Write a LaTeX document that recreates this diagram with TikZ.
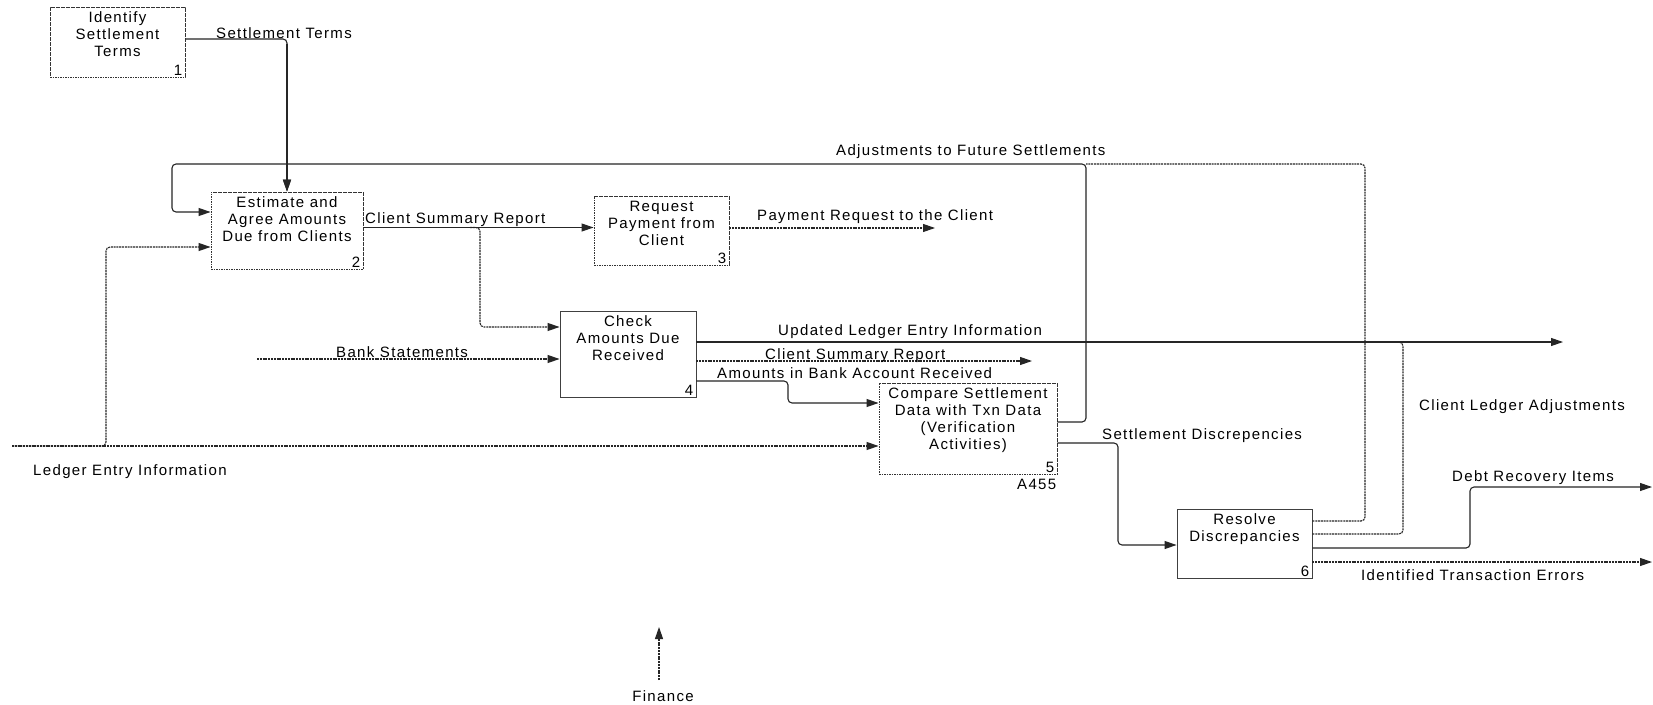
\documentclass[tikz,border=0pt]{standalone}
\usepackage{fontspec}
\setmainfont{Liberation Sans}[LetterSpace=9]
\usetikzlibrary{arrows.meta}

\begin{document}
\begin{tikzpicture}[x=1pt,y=-1pt,
  every node/.style={font=\fontsize{15}{17}\selectfont, inner sep=0pt, text=black},
  actbox/.style={rectangle, draw=black!80, line width=0.9pt, dash pattern=on 1.6pt off 0.9pt},
  plainbox/.style={rectangle, draw=black!75, line width=0.9pt},
  boxtext/.style={anchor=north, align=center, yshift=-5pt},
  boxnum/.style={anchor=south east},
  lbl/.style={anchor=west},
  flow/.style={line width=1.1pt, draw=black!85, rounded corners=4pt},
  flowd/.style={flow, dash pattern=on 2pt off 0.8pt},
  arr/.style={-{Triangle[length=12pt,width=8pt]}}
]
\useasboundingbox[fill=white] (0,0) rectangle (1653,704);

% activity boxes
\node[actbox, minimum width=135pt, minimum height=70pt] (b1) at (117.5,42) {};
\node[actbox, minimum width=152pt, minimum height=77pt] (b2) at (287,230.5) {};
\node[actbox, minimum width=135pt, minimum height=69pt] (b3) at (661.5,230.5) {};
\node[plainbox, minimum width=136pt, minimum height=86pt] (b4) at (628,354) {};
\node[actbox, minimum width=178pt, minimum height=91pt] (b5) at (968,428.5) {};
\node[plainbox, minimum width=135pt, minimum height=69pt] (b6) at (1244.5,543.5) {};

\node[boxtext] (t1) at (b1.north) {Identify\\Settlement\\Terms};
\node[boxtext] (t2) at (b2.north) {Estimate and\\Agree Amounts\\Due from Clients};
\node[boxtext] (t3) at (b3.north) {Request\\Payment from\\Client};
\node[boxtext] (t4) at (b4.north) {Check\\Amounts Due\\Received};
\node[boxtext] (t5) at (b5.north) {Compare Settlement\\Data with Txn Data\\(Verification\\Activities)};
\node[boxtext] (t6) at (b6.north) {Resolve\\Discrepancies};

\node[boxnum] (n1) at ([xshift=-3pt,yshift=2pt]b1.south east) {1};
\node[boxnum] (n2) at ([xshift=-3pt,yshift=2pt]b2.south east) {2};
\node[boxnum] (n3) at ([xshift=-3pt,yshift=2pt]b3.south east) {3};
\node[boxnum] (n4) at ([xshift=-3pt,yshift=2pt]b4.south east) {4};
\node[boxnum] (n5) at ([xshift=-3pt,yshift=2pt]b5.south east) {5};
\node[boxnum] (n6) at ([xshift=-3pt,yshift=2pt]b6.south east) {6};
\node[anchor=north east] (nodeid) at ([xshift=-1pt,yshift=-5pt]b5.south east) {A455};

% free ends of boundary arrows
\coordinate (ledger-in) at (12,446);
\coordinate (bank-in) at (257,359);
\coordinate (pay-out) at (935,228);
\coordinate (upd-out) at (1563,342);
\coordinate (csr-out) at (1032,361);
\coordinate (debt-out) at (1652,487);
\coordinate (err-out) at (1652,562);
\coordinate (fin-in) at (659,680);
\coordinate (fin-up) at (659,627);

% connectors
\draw[flow,arr] ([yshift=3pt]b1.east) -| (b2.north);
\draw[flow,line width=1.6pt,arr] (287,44) -- (b2.north);
\draw[flow,arr] ([yshift=6.5pt]b5.east) -- (1086,422) -- (1086,164) -- (172,164) -- (172,212) -- ([yshift=18.5pt]b2.west);
\draw[flowd] ([yshift=22.5pt]b6.east) -- (1365,521) -- (1365,164) -- (1086,164);
\draw[flowd,arr] (ledger-in) -- ([yshift=-17.5pt]b5.west);
\draw[flowd,arr] (ledger-in) -- (106,446) -- (106,247) -- ([yshift=-16.5pt]b2.west);
\draw[flow,arr] ([yshift=3pt]b2.east) -- ([yshift=3pt]b3.west);
\draw[flowd,arr] (470,227.5) -- (480,227.5) -- (480,327) -- ([yshift=27pt]b4.west);
\draw[flowd,arr] ([yshift=2.5pt]b3.east) -- (pay-out);
\draw[flowd,arr] (bank-in) -- ([yshift=-5pt]b4.west);
\draw[flow,arr] ([yshift=12pt]b4.east) -- (upd-out);
\draw[flowd,arr] ([yshift=-7pt]b4.east) -- (csr-out);
\draw[flow,arr] ([yshift=-27pt]b4.east) -- (788,381) -- (788,403) -- ([yshift=25.5pt]b5.west);
\draw[flow,arr] ([yshift=-14.5pt]b5.east) -- (1118,443) -- (1118,545) -- ([yshift=-1.5pt]b6.west);
\draw[flowd] ([yshift=9.5pt]b6.east) -- (1403,534) -- (1403,342) -- (1395,342);
\draw[flow,arr] ([yshift=-4.5pt]b6.east) -- (1470,548) -- (1470,487) -- (debt-out);
\draw[flowd,arr] ([yshift=-18.5pt]b6.east) -- (err-out);
\draw[flowd,arr] (fin-in) -- (fin-up);

% arrow labels
\node[lbl] (l1) at (216,33) {Settlement Terms};
\node[lbl] (l2) at (836,152) {Adjustments to Future Settlements};
\node[lbl] (l3) at (365,220) {Client Summary Report};
\node[lbl] (l4) at (757,217) {Payment Request to the Client};
\node[lbl] (l5) at (778,332) {Updated Ledger Entry Information};
\node[lbl] (l6) at (336,352) {Bank Statements};
\node[lbl] (l7) at (765,356) {Client Summary Report};
\node[lbl] (l8) at (717,373) {Amounts in Bank Account Received};
\node[lbl] (l9) at (1419,407) {Client Ledger Adjustments};
\node[lbl] (l10) at (1102,436) {Settlement Discrepencies};
\node[lbl] (l11) at (33,472) {Ledger Entry Information};
\node[lbl] (l12) at (1452,478) {Debt Recovery Items};
\node[lbl] (l13) at (1361,575) {Identified Transaction Errors};
\node (l14) at (663,696) {Finance};
\end{tikzpicture}
\end{document}
